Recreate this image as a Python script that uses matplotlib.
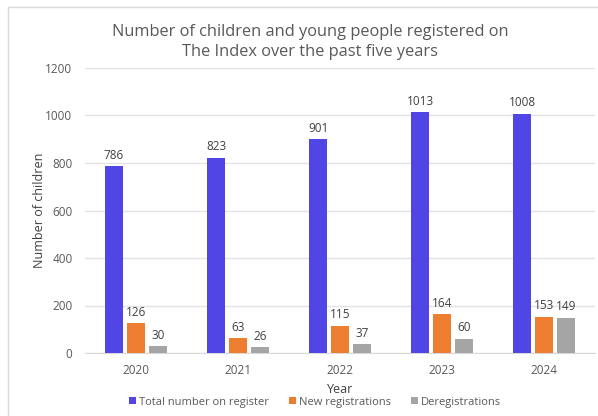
import matplotlib
matplotlib.use("Agg")
import matplotlib.pyplot as plt
from matplotlib.patches import Rectangle
import numpy as np

years = ["2020", "2021", "2022", "2023", "2024"]
total = [786, 823, 901, 1013, 1008]
new_reg = [126, 63, 115, 164, 153]
dereg = [30, 26, 37, 60, 149]
series_names = ["Total number on register", "New registrations", "Deregistrations"]
colors = ["#4F46E5", "#ED7D31", "#A5A5A5"]
yticks = [0, 200, 400, 600, 800, 1000, 1200]

plt.rcParams['font.family'] = ['Open Sans', 'DejaVu Sans']

fig = plt.figure(figsize=(5.98, 4.16), dpi=100)
W, H = 598, 416
ax = fig.add_axes([85 / W, 1 - 353 / H, 510 / W, (353 - 68) / H])

# frame border
fig.patches.append(Rectangle((8 / W, -0.1), 1.2, 1 - 7 / H + 0.1, transform=fig.transFigure,
                             fill=False, edgecolor="#d9d9d9", linewidth=1.0))

x = np.arange(len(years))
bw = 0.175
step = 0.215
data = [total, new_reg, dereg]
for i, (vals, c, name) in enumerate(zip(data, colors, series_names)):
    pos = x + (i - 1) * step
    ax.bar(pos, vals, width=bw, color=c, label=name, zorder=3)
    for p, v in zip(pos, vals):
        ax.text(p, v + 18, str(v), ha="center", va="bottom", fontsize=8.5, color="#404040")

ax.set_xlim(-0.5, len(years) - 0.5)
ax.set_ylim(0, 1200)
ax.set_yticks(yticks)
ax.set_xticks(x)
ax.set_xticklabels(years)
ax.tick_params(axis="both", length=0, labelsize=8.5, colors="#595959")
ax.tick_params(axis="y", pad=9)
ax.tick_params(axis="x", pad=8)
ax.grid(axis="y", color="#e3e3e3", linewidth=1, zorder=0)
for s in ["top", "right", "left"]:
    ax.spines[s].set_visible(False)
ax.spines["bottom"].set_color("#d9d9d9")

ax.set_ylabel("Number of children", fontsize=9, color="#404040")
ax.yaxis.set_label_coords((46 - 85) / 510, 0.5)
ax.set_xlabel("Year", fontsize=9, color="#404040", labelpad=4)

fig.text(310 / W, 1 - 42 / H, "Number of children and young people registered on\nThe Index over the past five years",
         ha="center", va="center", fontsize=11.8, color="#595959", linespacing=1.35)

handles, labels = ax.get_legend_handles_labels()
fig.legend(handles, labels, loc="center", bbox_to_anchor=(315 / W, 1 - 402 / H), ncol=3,
           frameon=False, fontsize=8, handlelength=0.6, handleheight=0.6, handletextpad=0.3,
           columnspacing=1.8, labelcolor="#595959")

fig.savefig("out.png", dpi=100)
